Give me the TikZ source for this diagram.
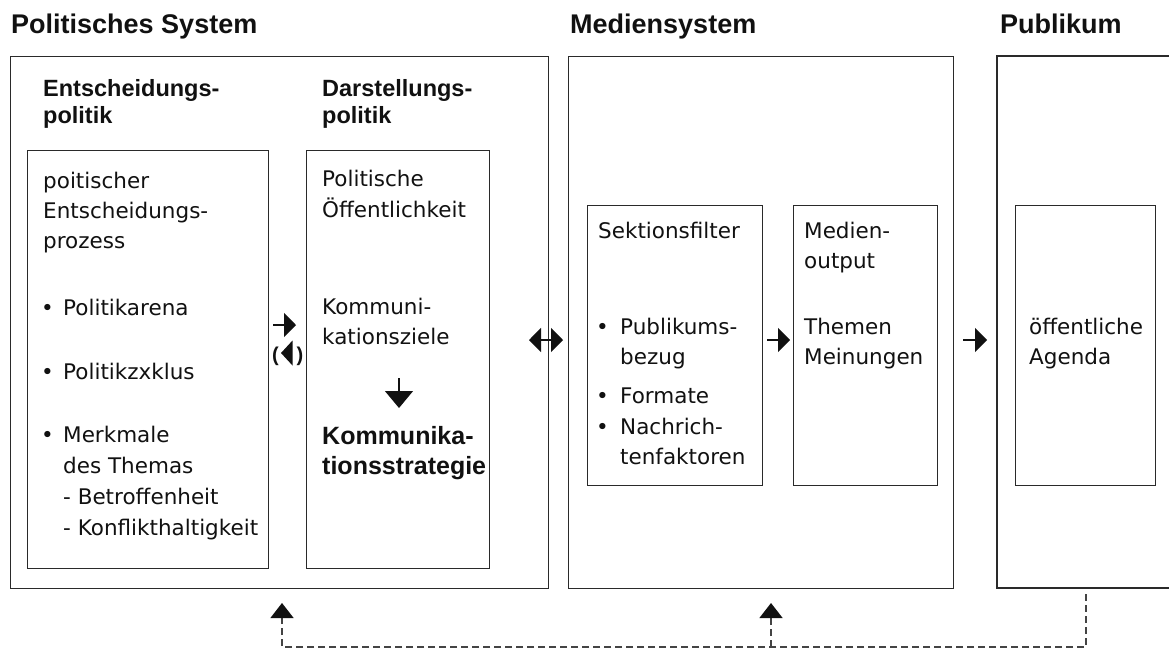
\documentclass[tikz,border=0pt]{standalone}
\usepackage{fontspec}
\setmainfont{DejaVu Sans}
\newfontfamily\hfont{Liberation Sans}
\usetikzlibrary{arrows.meta}
\definecolor{lc}{HTML}{2A2A2A}
\definecolor{tc}{HTML}{111111}
\definecolor{dc}{HTML}{444444}
\tikzset{
  box/.style={draw=lc, line width=1.3pt, inner sep=0pt, anchor=north west},
  boxline/.style={draw=lc, line width=1.3pt},
  txt/.style={anchor=base west, inner sep=0pt, text=tc, font=\fontsize{21.5}{25}\selectfont},
  ttl/.style={anchor=base west, inner sep=0pt, text=tc, font=\hfont\bfseries\fontsize{27}{30}\selectfont},
  hd/.style={anchor=base west, inner sep=0pt, text=tc, font=\hfont\bfseries\fontsize{23.5}{28}\selectfont},
  bd/.style={anchor=base west, inner sep=0pt, text=tc, font=\hfont\bfseries\fontsize{25}{28}\selectfont},
  harr/.style={draw=tc, line width=1.2pt, -{Triangle[length=12pt,width=24pt]}},
  darr/.style={draw=tc, line width=1.2pt, {Triangle[length=12pt,width=24pt]}-{Triangle[length=12pt,width=24pt]}},
  varr/.style={draw=tc, line width=1.2pt, -{Triangle[length=17pt,width=28pt]}},
  dsh/.style={draw=dc, line width=1.3pt, dash pattern=on 7pt off 4pt},
  uptip/.style={-{Triangle[length=15pt,width=23pt,color=tc]}},
  paren/.style={inner sep=0pt, text=tc, font=\hfont\bfseries\fontsize{20}{22}\selectfont}
}
\begin{document}
\begin{tikzpicture}[x=1pt,y=-1pt]
\useasboundingbox (0,0) rectangle (1169,649);

% titles
\node[ttl] (t1) at (11,33) {Politisches System};
\node[ttl] (t2) at (570,33) {Mediensystem};
\node[ttl] (t3) at (1000,33) {Publikum};

% outer boxes
\node[box, minimum width=538pt, minimum height=532pt] (pol) at (10,56) {};
\node[box, minimum width=385pt, minimum height=532pt] (med) at (568,56) {};
\draw[boxline] (1180,56) -- (997,56) -- (997,588) -- (1180,588);
\coordinate (pub) at (997,56);

% inner boxes
\node[box, minimum width=241pt, minimum height=418pt] (ent) at (27,150) {};
\node[box, minimum width=183pt, minimum height=418pt] (dar) at (306,150) {};
\node[box, minimum width=175pt, minimum height=280pt] (sek) at (587,205) {};
\node[box, minimum width=144pt, minimum height=280pt] (mo) at (793,205) {};
\node[box, minimum width=140pt, minimum height=280pt] (ag) at (1015,205) {};

% headings
\node[hd] (h1a) at (43,96) {Entscheidungs-};
\node[hd] (h1b) at (43,123) {politik};
\node[hd] (h2a) at (322,96) {Darstellungs-};
\node[hd] (h2b) at (322,123) {politik};

% box 1 text
\node[txt] (e1) at (43,188) {poitischer};
\node[txt] (e2) at (43,218) {Entscheidungs-};
\node[txt] (e3) at (43,248) {prozess};
\node[txt] (e4b) at (41,315) {•};
\node[txt] (e4) at (63,315) {Politikarena};
\node[txt] (e5b) at (41,379) {•};
\node[txt] (e5) at (63,379) {Politikzxklus};
\node[txt] (e6b) at (41,442) {•};
\node[txt] (e6) at (63,442) {Merkmale};
\node[txt] (e7) at (63,473) {des Themas};
\node[txt] (e8) at (63,504) {- Betroffenheit};
\node[txt] (e9) at (63,535) {- Konflikthaltigkeit};

% box 2 text
\node[txt] (d1) at (322,186) {Politische};
\node[txt] (d2) at (322,217) {Öffentlichkeit};
\node[txt] (d3) at (322,314) {Kommuni-};
\node[txt] (d4) at (322,344) {kationsziele};
\node[bd] (d5) at (322,444) {Kommunika-};
\node[bd] (d6) at (322,474) {tionsstrategie};
\coordinate (ds) at (399,378);
\coordinate (de) at (399,408);
\draw[varr] (ds) -- (de);

% Sektionsfilter
\node[txt] (s1) at (598,238) {Sektionsfilter};
\node[txt] (s2b) at (596,334) {•};
\node[txt] (s2) at (620,334) {Publikums-};
\node[txt] (s3) at (620,364) {bezug};
\node[txt] (s4b) at (596,403) {•};
\node[txt] (s4) at (620,403) {Formate};
\node[txt] (s5b) at (596,434) {•};
\node[txt] (s5) at (620,434) {Nachrich-};
\node[txt] (s6) at (620,464) {tenfaktoren};

% Medienoutput
\node[txt] (m1) at (804,238) {Medien-};
\node[txt] (m2) at (804,268) {output};
\node[txt] (m3) at (804,334) {Themen};
\node[txt] (m4) at (804,364) {Meinungen};

% Agenda
\node[txt] (g1) at (1029,334) {öffentliche};
\node[txt] (g2) at (1029,364) {Agenda};

% horizontal arrows
\coordinate (a1s) at (273,325); \coordinate (a1e) at (296,325);
\draw[harr] (a1s) -- (a1e);
\fill[tc] (292.5,340.5) -- (281,353) -- (292.5,365.5) -- cycle;
\node[paren] (pl) at (275.5,356) {(};
\node[paren] (pr) at (300,356) {)};

\coordinate (a2s) at (529,340); \coordinate (a2e) at (563,340);
\draw[darr] (a2s) -- (a2e);
\coordinate (a3s) at (767,340); \coordinate (a3e) at (790,340);
\draw[harr] (a3s) -- (a3e);
\coordinate (a4s) at (963,340); \coordinate (a4e) at (987,340);
\draw[harr] (a4s) -- (a4e);

% feedback dashed line
\coordinate (pubfoot) at (1086,594);
\coordinate (fbR) at (1086,647);
\coordinate (tipP) at (282,603);
\coordinate (tipM) at (771,603);
\draw[dsh, uptip] (pubfoot) -- (fbR) -| (tipP);
\draw[dsh, uptip] (tipM |- fbR) -- (tipM);
\end{tikzpicture}
\end{document}
